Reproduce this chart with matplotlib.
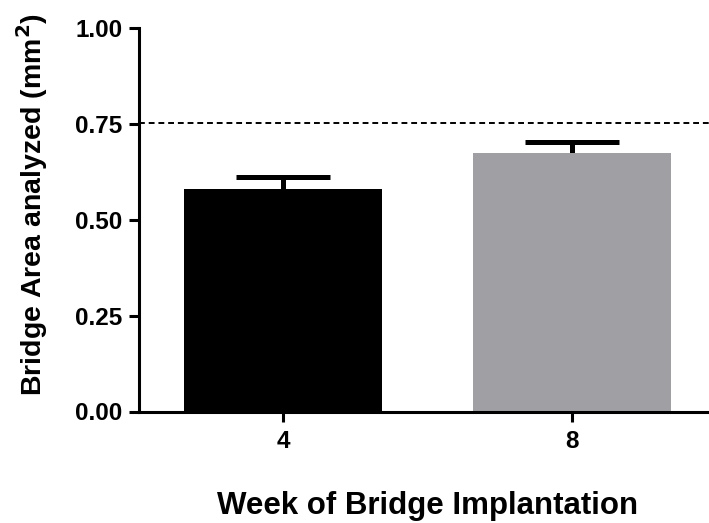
import matplotlib
matplotlib.use("Agg")
import matplotlib.pyplot as plt

# data
weeks = ["4", "8"]
area_mean = [0.581, 0.675]
area_err = [0.031, 0.029]
bar_colors = ["#000000", "#A09FA4"]
reference_level = 0.753

plt.rcParams["font.family"] = ["Liberation Sans", "DejaVu Sans"]
plt.rcParams["font.weight"] = "bold"

fig = plt.figure(figsize=(7.09, 5.23), dpi=100)
ax = fig.add_axes([139 / 709, 1 - 411.5 / 523, (716 - 139) / 709, (411.5 - 28) / 523])

x = list(range(len(weeks)))
ax.bar(x, area_mean, width=0.685, color=bar_colors, zorder=2)
# upper error only: lower cap sits behind the bar
ax.errorbar(x, area_mean, yerr=[[0.02] * len(x), area_err], fmt="none",
            ecolor="black", elinewidth=3.6, capsize=34, capthick=3.6, zorder=1)
ax.axhline(reference_level, color="black", lw=1.4, ls=(0, (3, 2)), zorder=1)

ax.set_xlim(-0.5, 1.5)
ax.set_ylim(0, 1.0)
ax.set_yticks([0.0, 0.25, 0.5, 0.75, 1.0])
ax.set_yticklabels(["0.00", "0.25", "0.50", "0.75", "1.00"])
ax.set_xticks(x)
ax.set_xticklabels(weeks)

for side in ("top", "right"):
    ax.spines[side].set_visible(False)
for side in ("left", "bottom"):
    ax.spines[side].set_linewidth(2.2)
ax.tick_params(axis="both", width=2.2, length=7, labelsize=17.5, pad=5)
ax.tick_params(axis="x", pad=6)

ax.set_ylabel("Bridge Area analyzed (mm$^\\mathbf{2}$)", fontsize=20.5, fontweight="bold")
ax.yaxis.set_label_coords(-0.154, 0.54)
ax.set_xlabel("Week of Bridge Implantation", fontsize=22.5, fontweight="bold", labelpad=28)

fig.savefig("out.png", dpi=100)
